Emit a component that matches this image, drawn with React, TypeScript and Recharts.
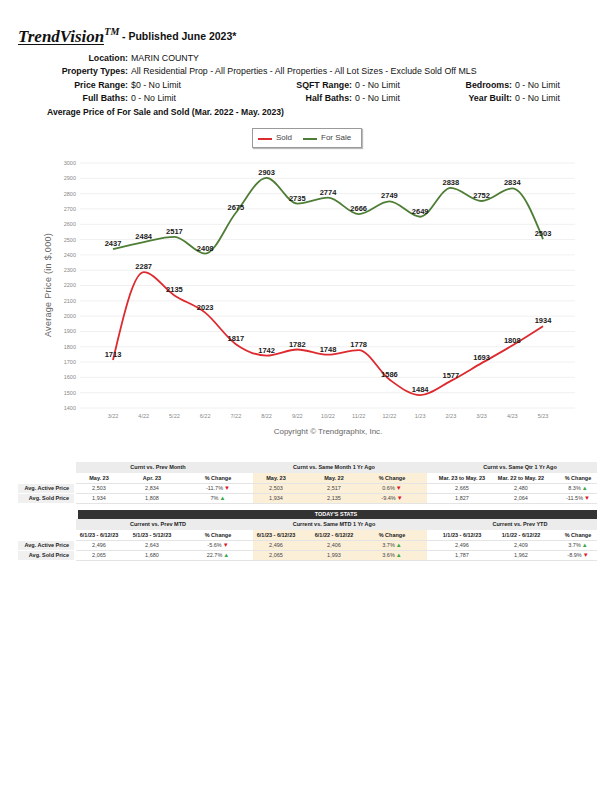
import React from 'react';
import { LineChart, Line, XAxis, YAxis, CartesianGrid, LabelList } from 'recharts';

const months = ['3/22', '4/22', '5/22', '6/22', '7/22', '8/22', '9/22', '10/22', '11/22', '12/22', '1/23', '2/23', '3/23', '4/23', '5/23'];
const soldPrices = [1713, 2287, 2135, 2023, 1817, 1742, 1782, 1748, 1778, 1586, 1484, 1577, 1693, 1808, 1934];
const forSalePrices = [2437, 2484, 2517, 2408, 2675, 2903, 2735, 2774, 2666, 2749, 2649, 2838, 2752, 2834, 2503];
const priceTicks = [1400, 1500, 1600, 1700, 1800, 1900, 2000, 2100, 2200, 2300, 2400, 2500, 2600, 2700, 2800, 2900, 3000];

const groups1 = ['Curnt vs. Prev Month', 'Curnt vs. Same Month 1 Yr Ago', 'Curnt vs. Same Qtr 1 Yr Ago'];
const cols1 = ['May. 23', 'Apr. 23', '% Change', 'May. 23', 'May. 22', '% Change', 'Mar. 23 to May. 23', 'Mar. 22 to May. 22', '% Change'];
const active1 = ['2,503', '2,834', '-11.7%', '2,503', '2,517', '0.6%', '2,665', '2,480', '8.3%'];
const sold1 = ['1,934', '1,808', '7%', '1,934', '2,135', '-9.4%', '1,827', '2,064', '-11.5%'];
const activeArrows1 = ['down', 'down', 'up'];
const soldArrows1 = ['up', 'down', 'down'];

const groups2 = ['Current vs. Prev MTD', 'Current vs. Same MTD 1 Yr Ago', 'Current vs. Prev YTD'];
const cols2 = ['6/1/23 - 6/12/23', '5/1/23 - 5/12/23', '% Change', '6/1/23 - 6/12/23', '6/1/22 - 6/12/22', '% Change', '1/1/23 - 6/12/23', '1/1/22 - 6/12/22', '% Change'];
const active2 = ['2,496', '2,643', '-5.6%', '2,496', '2,406', '3.7%', '2,496', '2,409', '3.7%'];
const sold2 = ['2,065', '1,680', '22.7%', '2,065', '1,993', '3.6%', '1,787', '1,962', '-8.9%'];
const activeArrows2 = ['down', 'up', 'up'];
const soldArrows2 = ['up', 'up', 'down'];

const rowLabels = ['Avg. Active Price', 'Avg. Sold Price'];

const chartData = months.map((m, i) => ({ month: m, sold: soldPrices[i], forSale: forSalePrices[i] }));

const FONT = '"Liberation Sans", Arial, Helvetica, sans-serif';
const colX = [99, 152, 218, 276, 334, 392, 462, 521, 578];
const groupX = [158, 334, 520];

type TxtProps = { x: number; y: number; children: React.ReactNode; bold?: boolean; anchor?: 'start' | 'middle' | 'end'; size?: number; color?: string; w?: number };
const Txt = ({ x, y, children, bold, anchor = 'middle', size = 5.5, color = '#222', w = 400 }: TxtProps) => {
  const left = anchor === 'middle' ? x - w / 2 : anchor === 'end' ? x - w : x;
  return (
    <div
      style={{
        position: 'absolute',
        left,
        top: y - size * 0.6,
        width: w,
        textAlign: anchor === 'middle' ? 'center' : anchor === 'end' ? 'right' : 'left',
        fontSize: size,
        lineHeight: `${size * 1.2}px`,
        fontWeight: bold ? 'bold' : 'normal',
        color,
        fontFamily: FONT,
        whiteSpace: 'nowrap',
      }}
    >
      {children}
    </div>
  );
};

const Arrow = ({ dir }: { dir: string }) => (
  <span style={{ color: dir === 'up' ? '#3aa843' : '#e0141e', fontSize: 6, marginLeft: 1 }}>{dir === 'up' ? '▲' : '▼'}</span>
);

const Box = ({ x, y, w, h, bg }: { x: number; y: number; w: number; h: number; bg: string }) => (
  <div style={{ position: 'absolute', left: x, top: y, width: w, height: h, background: bg }} />
);

const StatsTable = ({ top, groups, cols, active, sold, aArrows, sArrows, title }: any) => {
  const bandTop = title ? top + 9 : top;
  const headerY = bandTop + 16;
  const row1Y = headerY + 10;
  const row2Y = row1Y + 10;
  return (
    <>
      {title && <Box x={78} y={top} w={519} h={9} bg="#333333" />}
      {title && <Txt x={336} y={top + 4.5} bold color="#ffffff">{title}</Txt>}
      <Box x={76} y={bandTop} w={521} h={11} bg="#ececec" />
      <Box x={253} y={bandTop + 11} w={174} h={31} bg="#fcefd8" />
      <Box x={18} y={row1Y - 4.5} w={56} h={9} bg="#f0f0f0" />
      <Box x={18} y={row2Y - 4.5} w={56} h={9} bg="#f0f0f0" />
      <Box x={76} y={headerY + 4.5} w={521} h={0.6} bg="#e4e4e4" />
      <Box x={76} y={row1Y + 4.5} w={521} h={0.6} bg="#e4e4e4" />
      <Box x={76} y={row2Y + 4.5} w={521} h={0.6} bg="#e4e4e4" />
      {groups.map((g: string, i: number) => (
        <Txt key={'g' + i} x={groupX[i]} y={bandTop + 5.5} bold>{g}</Txt>
      ))}
      {cols.map((c: string, i: number) => (
        <Txt key={'c' + i} x={colX[i]} y={headerY} bold>{c}</Txt>
      ))}
      {rowLabels.map((r, i) => (
        <Txt key={'r' + i} x={69} y={i === 0 ? row1Y : row2Y} bold anchor="end">{r}</Txt>
      ))}
      {active.map((v: string, i: number) => (
        <Txt key={'a' + i} x={colX[i]} y={row1Y} color="#444">
          {v}
          {i % 3 === 2 && <Arrow dir={aArrows[(i - 2) / 3]} />}
        </Txt>
      ))}
      {sold.map((v: string, i: number) => (
        <Txt key={'s' + i} x={colX[i]} y={row2Y} color="#444">
          {v}
          {i % 3 === 2 && <Arrow dir={sArrows[(i - 2) / 3]} />}
        </Txt>
      ))}
    </>
  );
};

const renderLabel = (props: any) => {
  const { x, y, value } = props;
  return (
    <text x={x} y={y - 3} textAnchor="middle" fontFamily={FONT} fontWeight="bold" fontSize={7.5} fill="#1a1a1a">
      {value}
    </text>
  );
};

export default function App() {
  const infoLabel = (x: number, y: number, label: string, value: string) => (
    <>
      <Txt x={x} y={y} bold anchor="end" size={8.8} color="#111">{label}</Txt>
      <Txt x={x + 3} y={y} anchor="start" size={8.8} color="#111">{value}</Txt>
    </>
  );
  return (
    <div style={{ position: 'absolute', left: 0, top: 0, width: 612, height: 792, background: '#fff', fontFamily: FONT }}>
      <div style={{ position: 'absolute', left: 18, top: 22, fontFamily: '"Liberation Serif", "Times New Roman", serif', fontStyle: 'italic', fontWeight: 'bold', fontSize: 17, color: '#111', whiteSpace: 'nowrap', lineHeight: '20px' }}>
        TrendVision<sup style={{ fontSize: 10 }}>TM</sup>
      </div>
      <Box x={18} y={44} w={86} h={1.2} bg="#111" />
      <Txt x={122} y={36} bold anchor="start" size={10.5} color="#111">- Published June 2023*</Txt>

      {infoLabel(128, 58, 'Location:', 'MARIN COUNTY')}
      {infoLabel(128, 71, 'Property Types:', 'All Residential Prop - All Properties - All Properties - All Lot Sizes - Exclude Sold Off MLS')}
      {infoLabel(128, 85, 'Price Range:', '$0 - No Limit')}
      {infoLabel(352, 85, 'SQFT Range:', '0 - No Limit')}
      {infoLabel(512, 85, 'Bedrooms:', '0 - No Limit')}
      {infoLabel(128, 98, 'Full Baths:', '0 - No Limit')}
      {infoLabel(352, 98, 'Half Baths:', '0 - No Limit')}
      {infoLabel(512, 98, 'Year Built:', '0 - No Limit')}
      <Txt x={47} y={112} bold anchor="start" size={8.6} color="#111">Average Price of For Sale and Sold (Mar. 2022 - May. 2023)</Txt>

      <div style={{ position: 'absolute', left: 0, top: 0 }}>
        <LineChart width={612} height={450} data={chartData} margin={{ top: 163, right: 37, bottom: 22, left: 50 }}>
          <CartesianGrid vertical={false} stroke="#ececec" strokeWidth={0.8} />
          <XAxis
            dataKey="month"
            padding={{ left: 33, right: 32 }}
            axisLine={false}
            tickLine={false}
            tickSize={4}
            tickMargin={2}
            height={20}
            interval={0}
            tick={{ fontSize: 5.5, fill: '#888', fontFamily: FONT }}
          />
          <YAxis
            domain={[1400, 3000]}
            ticks={priceTicks}
            width={30}
            axisLine={false}
            tickLine={false}
            tickSize={2}
            tickMargin={2}
            interval={0}
            tick={{ fontSize: 5.5, fill: '#888', fontFamily: FONT }}
          />
          <Line type="monotone" dataKey="forSale" stroke="#4e7d35" strokeWidth={1.8} dot={false} isAnimationActive={false}>
            <LabelList dataKey="forSale" content={renderLabel} />
          </Line>
          <Line type="monotone" dataKey="sold" stroke="#dd2a2f" strokeWidth={1.8} dot={false} isAnimationActive={false}>
            <LabelList dataKey="sold" content={renderLabel} />
          </Line>
        </LineChart>
      </div>

      <div style={{ position: 'absolute', left: 48 - 60, top: 285 - 6, width: 120, textAlign: 'center', transform: 'rotate(-90deg)', fontSize: 9, lineHeight: '12px', color: '#666', fontFamily: FONT, whiteSpace: 'nowrap', letterSpacing: 0.3 }}>
        Average Price (in $,000)
      </div>

      <div style={{ position: 'absolute', left: 252, top: 128, width: 108, height: 18, border: '1px solid #9a9a9a', boxShadow: '1px 1px 1px #bbb', background: '#fff' }}>
        <div style={{ position: 'absolute', left: 5, top: 9, width: 14, height: 1.6, background: '#dd2a2f' }} />
        <div style={{ position: 'absolute', left: 23, top: 3, fontSize: 8, color: '#444', fontFamily: FONT, lineHeight: '12px' }}>Sold</div>
        <div style={{ position: 'absolute', left: 50, top: 9, width: 14, height: 1.6, background: '#4e7d35' }} />
        <div style={{ position: 'absolute', left: 68, top: 3, fontSize: 8, color: '#444', fontFamily: FONT, lineHeight: '12px' }}>For Sale</div>
      </div>

      <Txt x={328} y={432} size={8} color="#666">Copyright © Trendgraphix, Inc.</Txt>

      <StatsTable top={462} groups={groups1} cols={cols1} active={active1} sold={sold1} aArrows={activeArrows1} sArrows={soldArrows1} />
      <StatsTable top={510} title="TODAY'S STATS" groups={groups2} cols={cols2} active={active2} sold={sold2} aArrows={activeArrows2} sArrows={soldArrows2} />
    </div>
  );
}
